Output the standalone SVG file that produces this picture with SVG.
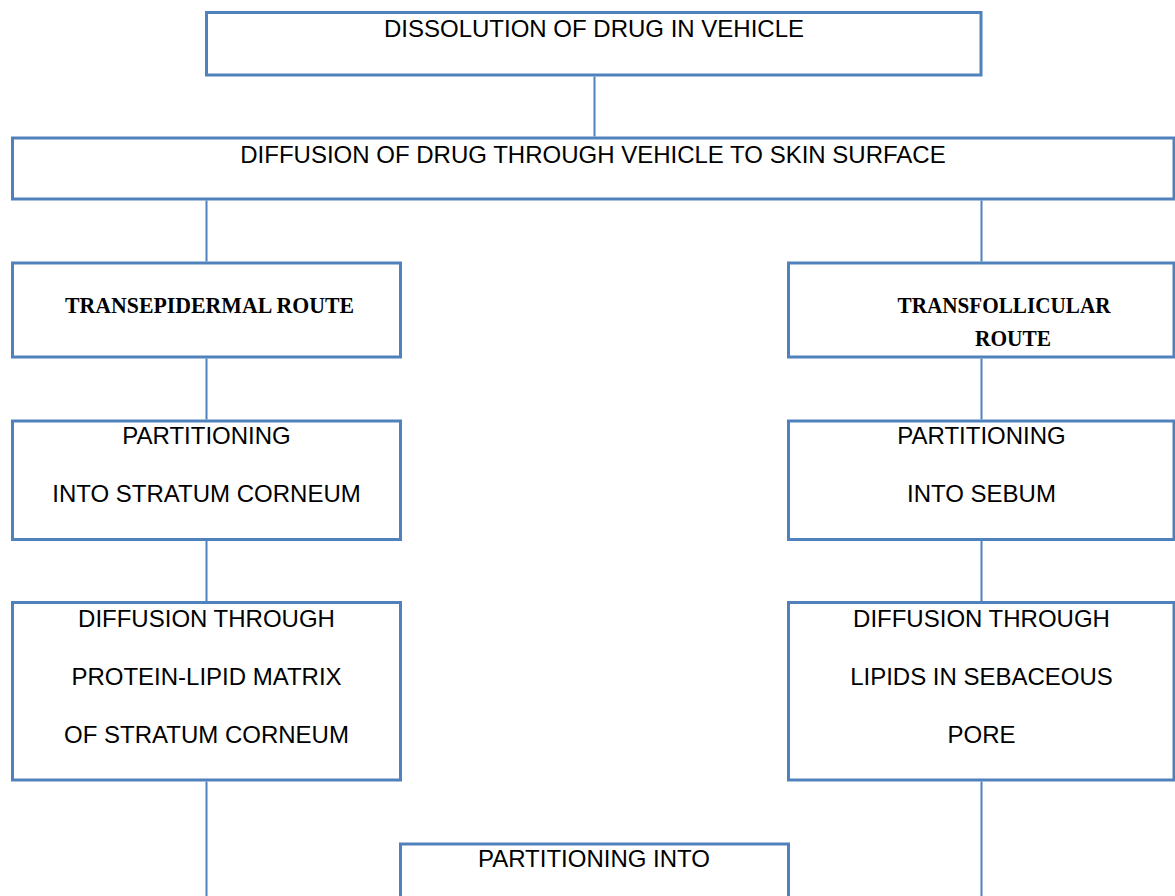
<svg xmlns="http://www.w3.org/2000/svg" width="1175" height="896" viewBox="0 0 1175 896">
<style>
.box{fill:#ffffff;stroke:#4F81BD;stroke-width:3}
.con{stroke:#4F81BD;stroke-width:2;fill:none}
.t{font-family:"Liberation Sans",Arial,sans-serif;font-size:24px;fill:#000;text-anchor:middle}
.b{font-family:"Liberation Serif","Times New Roman",serif;font-size:24px;font-weight:bold;fill:#000;text-anchor:middle}
</style>
<rect width="1175" height="896" fill="#ffffff"/>
<g id="connectors">
<line class="con" x1="594.5" y1="76.5" x2="594.5" y2="136.5"/>
<line class="con" x1="206.5" y1="200.5" x2="206.5" y2="261.5"/>
<line class="con" x1="981.5" y1="200.5" x2="981.5" y2="261.5"/>
<line class="con" x1="206.5" y1="358.5" x2="206.5" y2="419.5"/>
<line class="con" x1="981.5" y1="358.5" x2="981.5" y2="419.5"/>
<line class="con" x1="206.5" y1="541" x2="206.5" y2="601"/>
<line class="con" x1="981.5" y1="541" x2="981.5" y2="601"/>
<line class="con" x1="206.5" y1="781.5" x2="206.5" y2="896"/>
<line class="con" x1="981.5" y1="781.5" x2="981.5" y2="896"/>
</g>
<g id="dissolution">
<rect class="box" x="206.5" y="12.5" width="774.5" height="62.5"/>
<text class="t" x="594" y="36.5">DISSOLUTION OF DRUG IN VEHICLE</text>
</g>
<g id="diffusion-vehicle">
<rect class="box" x="12.5" y="138" width="1161.5" height="61"/>
<text class="t" x="593" y="163">DIFFUSION OF DRUG THROUGH VEHICLE TO SKIN SURFACE</text>
</g>
<g id="transepidermal">
<rect class="box" x="12.5" y="263" width="388" height="94"/>
<text class="b" x="209.5" y="313" textLength="289" lengthAdjust="spacingAndGlyphs">TRANSEPIDERMAL ROUTE</text>
</g>
<g id="transfollicular">
<rect class="box" x="788.5" y="263" width="385.5" height="94"/>
<text class="b" x="1004" y="313" textLength="213" lengthAdjust="spacingAndGlyphs">TRANSFOLLICULAR</text>
<text class="b" x="1013" y="346" textLength="76" lengthAdjust="spacingAndGlyphs">ROUTE</text>
</g>
<g id="partition-sc">
<rect class="box" x="12.5" y="421" width="388" height="118.5"/>
<text class="t" x="206.5" y="444">PARTITIONING</text>
<text class="t" x="206.5" y="502">INTO STRATUM CORNEUM</text>
</g>
<g id="partition-sebum">
<rect class="box" x="788.5" y="421" width="385.5" height="118.5"/>
<text class="t" x="981.5" y="444">PARTITIONING</text>
<text class="t" x="981.5" y="502">INTO SEBUM</text>
</g>
<g id="diffusion-matrix">
<rect class="box" x="12.5" y="602.5" width="388" height="177.5"/>
<text class="t" x="206.5" y="627">DIFFUSION THROUGH</text>
<text class="t" x="206.5" y="685">PROTEIN-LIPID MATRIX</text>
<text class="t" x="206.5" y="743">OF STRATUM CORNEUM</text>
</g>
<g id="diffusion-lipids">
<rect class="box" x="788.5" y="602.5" width="385.5" height="177.5"/>
<text class="t" x="981.5" y="627">DIFFUSION THROUGH</text>
<text class="t" x="981.5" y="685">LIPIDS IN SEBACEOUS</text>
<text class="t" x="981.5" y="743">PORE</text>
</g>
<g id="partition-into">
<rect class="box" x="400.5" y="844" width="388" height="80"/>
<text class="t" x="594" y="866.5">PARTITIONING INTO</text>
</g>
</svg>
